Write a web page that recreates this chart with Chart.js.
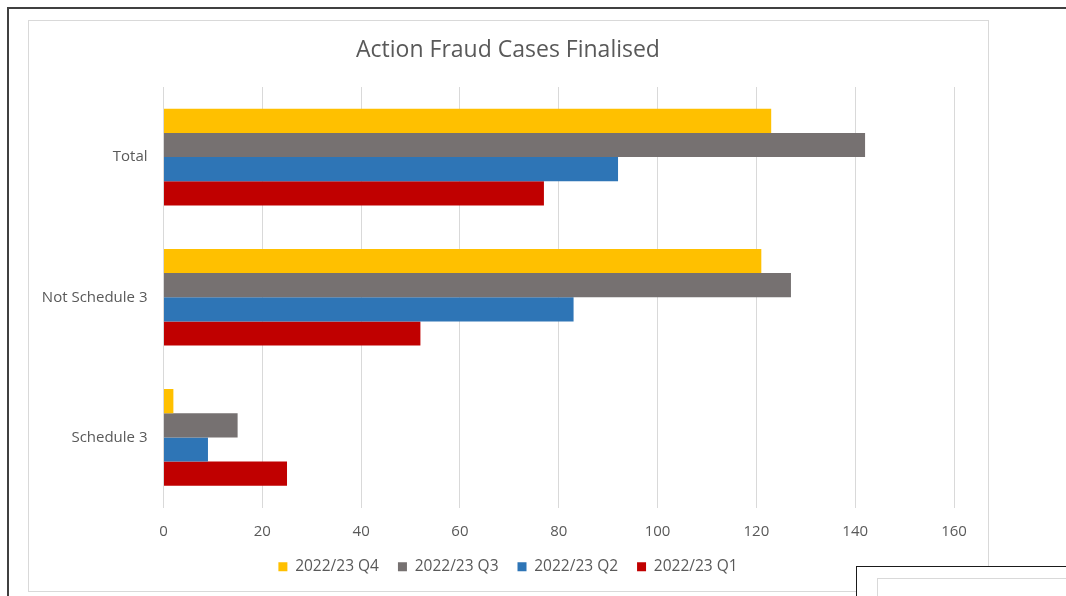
<!DOCTYPE html>
<html>
<head>
<meta charset="utf-8">
<script src="https://cdn.jsdelivr.net/npm/chart.js@4"></script>
<style>
  html, body { margin:0; padding:0; background:#fff; width:1066px; height:596px; overflow:hidden; }
  .outer-top { position:absolute; left:7px; top:7px; width:1059px; height:2px; background:#404040; }
  .outer-left { position:absolute; left:7px; top:7px; width:2px; height:589px; background:#404040; }
  .chartbox { position:absolute; left:28px; top:20px; width:959px; height:570px; border:1px solid #D9D9D9; background:#fff; }
  #c { position:absolute; left:29px; top:21px; }
  .br-box { position:absolute; left:856px; top:566px; width:220px; height:40px; border-top:1.5px solid #1a1a1a; border-left:1.5px solid #1a1a1a; background:#fff; }
  .br-inner { position:absolute; left:877px; top:578px; width:200px; height:30px; border-top:1px solid #D9D9D9; border-left:1px solid #D9D9D9; }
</style>
</head>
<body>
<div class="outer-top"></div>
<div class="outer-left"></div>
<div class="chartbox"></div>
<canvas id="c" width="958" height="569"></canvas>
<div class="br-box"></div>
<div class="br-inner"></div>
<script>
const categories = ["Total", "Not Schedule 3", "Schedule 3"];
const seriesNames = ["2022/23 Q4", "2022/23 Q3", "2022/23 Q2", "2022/23 Q1"];
const q4Values = [123, 121, 2];
const q3Values = [142, 127, 15];
const q2Values = [92, 83, 9];
const q1Values = [77, 52, 25];
const seriesColors = ["#FFC000", "#767171", "#2E75B6", "#C00000"];
const titleText = "Action Fraud Cases Finalised";

const FONT = "'Open Sans', sans-serif";
const TEXT = "#595959";

const seriesValues = [q4Values, q3Values, q2Values, q1Values];

new Chart(document.getElementById('c'), {
  type: 'bar',
  data: {
    labels: categories,
    datasets: seriesNames.map((n, i) => ({
      label: n,
      data: seriesValues[i],
      backgroundColor: seriesColors[i],
      borderWidth: 0,
      categoryPercentage: 0.69,
      barPercentage: 1.0
    }))
  },
  options: {
    indexAxis: 'y',
    responsive: false,
    devicePixelRatio: 1,
    animation: false,
    layout: { padding: { left: 0, right: 0, top: 0, bottom: 5.5 } },
    plugins: {
      title: {
        display: true,
        text: titleText,
        color: TEXT,
        font: { family: FONT, size: 23, weight: 'normal' },
        padding: { top: 15.2, bottom: 23.2 }
      },
      legend: {
        position: 'bottom',
        labels: {
          color: TEXT,
          font: { family: FONT, size: 15.5 },
          boxWidth: 9,
          boxHeight: 9,
          padding: 19
        }
      },
      tooltip: { enabled: false }
    },
    scales: {
      x: {
        min: 0,
        max: 160,
        ticks: { stepSize: 20, color: TEXT, font: { family: FONT, size: 15 }, padding: 15 },
        grid: { color: '#D9D9D9', drawTicks: false },
        border: { display: false },
        afterFit(s) { s.height = 32.5; }
      },
      y: {
        ticks: { color: TEXT, font: { family: FONT, size: 15 }, padding: 16 },
        grid: { display: false, drawTicks: false },
        border: { display: false },
        afterFit(s) { s.width = 134.5; }
      },
      yPad: {
        type: 'category',
        position: 'right',
        labels: categories,
        grid: { display: false, drawTicks: false },
        ticks: { display: false },
        border: { display: false },
        afterFit(s) { s.width = 33; }
      }
    }
  }
});
</script>
</body>
</html>
